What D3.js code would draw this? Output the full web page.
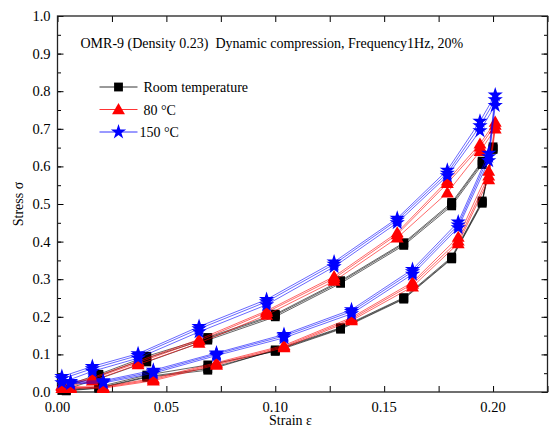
<!DOCTYPE html>
<html>
<head>
<meta charset="utf-8">
<script src="https://cdn.jsdelivr.net/npm/d3@7"></script>
<style>
  body { margin: 0; background: #fff; }
  text { font-family: "Liberation Serif", "DejaVu Serif", serif; fill: #000; }
</style>
</head>
<body>
<div id="chart"></div>
<script>
// strain positions along one loop (loading up, then unloading down)
var blackStrain = [0.002, 0.019, 0.041, 0.069, 0.100, 0.130, 0.159, 0.181, 0.195, 0.200,
                   0.195, 0.181, 0.159, 0.130, 0.100, 0.069, 0.041, 0.019, 0.004]
var redStrain = [0.002, 0.016, 0.037, 0.065, 0.096, 0.127, 0.156, 0.179, 0.194, 0.201,
                 0.198, 0.184, 0.163, 0.135, 0.104, 0.073, 0.044, 0.021, 0.006]
var blueStrain = [0.002, 0.016, 0.037, 0.065, 0.096, 0.127, 0.156, 0.179, 0.194, 0.201,
                  0.198, 0.184, 0.163, 0.135, 0.104, 0.073, 0.044, 0.021, 0.006]

// stress, three cycles each
var blackStress = [
  [0.004, 0.035, 0.080, 0.138, 0.200, 0.289, 0.390, 0.495, 0.605, 0.645, 0.502, 0.354, 0.247, 0.167, 0.108, 0.072, 0.045, 0.014, 0.006],
  [0.010, 0.043, 0.090, 0.142, 0.204, 0.293, 0.394, 0.500, 0.610, 0.648, 0.505, 0.356, 0.249, 0.169, 0.110, 0.062, 0.041, 0.011, 0.004],
  [0.014, 0.047, 0.095, 0.145, 0.207, 0.296, 0.397, 0.504, 0.614, 0.652, 0.508, 0.359, 0.251, 0.171, 0.112, 0.058, 0.039, 0.010, 0.003]
]
var redStress = [
  [0.010, 0.030, 0.073, 0.130, 0.205, 0.295, 0.410, 0.530, 0.640, 0.700, 0.565, 0.395, 0.280, 0.190, 0.118, 0.072, 0.030, 0.010, 0.010],
  [0.015, 0.035, 0.078, 0.136, 0.212, 0.302, 0.419, 0.555, 0.652, 0.710, 0.575, 0.402, 0.287, 0.194, 0.121, 0.075, 0.033, 0.012, 0.012],
  [0.018, 0.038, 0.082, 0.140, 0.216, 0.307, 0.424, 0.562, 0.660, 0.718, 0.588, 0.412, 0.292, 0.198, 0.124, 0.078, 0.036, 0.014, 0.014]
]
var blueStress = [
  [0.025, 0.055, 0.090, 0.160, 0.232, 0.333, 0.450, 0.575, 0.695, 0.762, 0.615, 0.437, 0.313, 0.208, 0.144, 0.097, 0.050, 0.024, 0.022],
  [0.035, 0.062, 0.097, 0.168, 0.240, 0.340, 0.457, 0.582, 0.708, 0.777, 0.626, 0.444, 0.320, 0.214, 0.149, 0.101, 0.054, 0.027, 0.025],
  [0.041, 0.068, 0.102, 0.174, 0.246, 0.346, 0.462, 0.590, 0.720, 0.790, 0.635, 0.452, 0.326, 0.219, 0.153, 0.104, 0.058, 0.030, 0.028]
]

var seriesNames = ["Room temperature", "80 \u00B0C", "150 \u00B0C"]
var seriesColors = ["#000000", "#ff0000", "#0000ff"]
var xTicks = [0.00, 0.05, 0.10, 0.15, 0.20]
var yTicks = [0.0, 0.1, 0.2, 0.3, 0.4, 0.5, 0.6, 0.7, 0.8, 0.9, 1.0]
var titleText = "OMR-9 (Density 0.23)  Dynamic compression, Frequency1Hz, 20%"

var W = 553, H = 427
var margin = {top: 16, right: 5.5, bottom: 35, left: 57.5}
var iw = W - margin.left - margin.right
var ih = H - margin.top - margin.bottom

var x = d3.scaleLinear().domain([0, 0.225]).range([0, iw])
var y = d3.scaleLinear().domain([0, 1.0]).range([ih, 0])

var svg = d3.select("#chart").append("svg")
    .attr("width", W).attr("height", H)
var g = svg.append("g").attr("transform", "translate(" + margin.left + "," + margin.top + ")")

// axes, ticks point inward
var xMinor = d3.range(0, 0.2251, 0.025)
var yMinor = d3.range(0, 1.001, 0.05)
var fmtX = d3.format(".2f"), fmtY = d3.format(".1f")

g.append("g").attr("transform", "translate(0," + ih + ")")
    .call(d3.axisBottom(x).tickValues(xMinor).tickSize(-6).tickFormat(""))
g.append("g")
    .call(d3.axisTop(x).tickValues(xMinor).tickSize(-6).tickFormat(""))
g.append("g")
    .call(d3.axisLeft(y).tickValues(yMinor).tickSize(-3.5).tickFormat(""))
g.append("g")
    .call(d3.axisLeft(y).tickValues(yTicks).tickSize(-6).tickFormat(""))
g.append("g").attr("transform", "translate(" + iw + ",0)")
    .call(d3.axisRight(y).tickValues(yMinor).tickSize(-3.5).tickFormat(""))
g.append("g").attr("transform", "translate(" + iw + ",0)")
    .call(d3.axisRight(y).tickValues(yTicks).tickSize(-6).tickFormat(""))
g.selectAll(".domain").remove()
g.selectAll(".tick line").attr("stroke", "#000").attr("stroke-width", 1)

g.append("rect").attr("width", iw).attr("height", ih)
    .attr("fill", "none").attr("stroke", "#222").attr("stroke-width", 1.3)

g.selectAll(".xlab").data(xTicks).enter().append("text")
    .attr("x", function (d) { return x(d) })
    .attr("y", ih + 20)
    .attr("text-anchor", "middle")
    .style("font-size", "14.5px")
    .text(fmtX)
g.selectAll(".ylab").data(yTicks).enter().append("text")
    .attr("x", -7)
    .attr("y", function (d) { return y(d) + 5 })
    .attr("text-anchor", "end")
    .style("font-size", "14.5px")
    .text(fmtY)

svg.append("text").attr("x", margin.left + iw / 2 - 12).attr("y", H - 2)
    .attr("text-anchor", "middle").style("font-size", "14px").text("Strain \u03B5")
svg.append("text").attr("transform", "translate(23," + (margin.top + ih / 2) + ") rotate(-90)")
    .attr("text-anchor", "middle").style("font-size", "14px").text("Stress \u03C3")

g.append("text").attr("x", 23).attr("y", 32)
    .style("font-size", "14px").style("white-space", "pre").text(titleText)

// markers
var symbols = [d3.symbolSquare, d3.symbolTriangle, d3.symbolStar]
var symSizes = [78, 72, 72]
function marker(i) { return d3.symbol().type(symbols[i]).size(symSizes[i])() }

var allStrain = [blackStrain, redStrain, blueStrain]
var allStress = [blackStress, redStress, blueStress]
var line = d3.line().x(function (d) { return x(d[0]) }).y(function (d) { return y(d[1]) })

allStress.forEach(function (cycles, si) {
    var pts = []
    cycles.forEach(function (c) {
        c.forEach(function (v, k) { pts.push([allStrain[si][k], v]) })
    })
    var sg = g.append("g")
    sg.append("path").datum(pts).attr("d", line)
        .attr("fill", "none").attr("stroke", seriesColors[si])
        .attr("stroke-width", 0.7).attr("stroke-opacity", 0.85)
    sg.selectAll("path.m").data(pts).enter().append("path")
        .attr("class", "m")
        .attr("d", marker(si))
        .attr("transform", function (d) {
            return "translate(" + x(d[0]) + "," + (y(d[1]) + (si == 1 ? 1 : 0)) + ")"
        })
        .attr("fill", seriesColors[si])
})

// legend
var leg = g.append("g").attr("transform", "translate(42,71)")
seriesNames.forEach(function (nm, i) {
    var ly = i * 22.5
    leg.append("line").attr("x1", 0).attr("x2", 38).attr("y1", ly).attr("y2", ly)
        .attr("stroke", seriesColors[i]).attr("stroke-width", 0.8)
    leg.append("path").attr("d", marker(i))
        .attr("transform", "translate(19," + (ly + (i == 1 ? 1 : 0)) + ")")
        .attr("fill", seriesColors[i])
    leg.append("text").attr("x", i == 2 ? 40 : 44).attr("y", ly + 5)
        .style("font-size", "14px").text(nm)
})
</script>
</body>
</html>
